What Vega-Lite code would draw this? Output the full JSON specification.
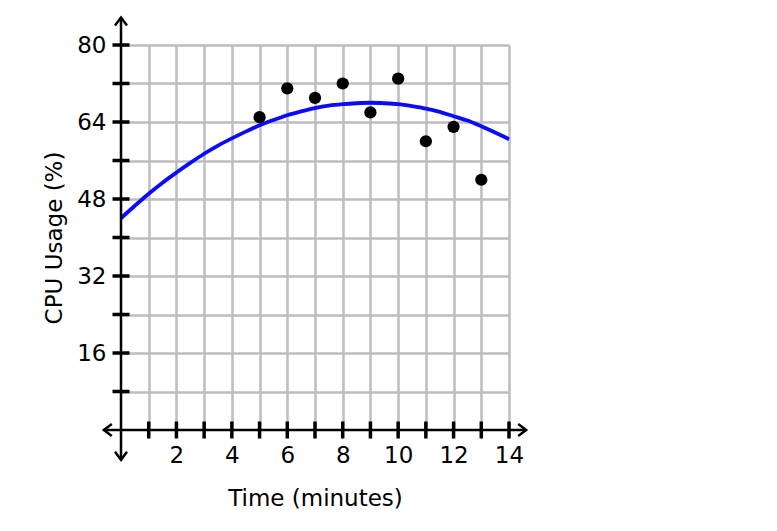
{
  "$schema": "https://vega.github.io/schema/vega-lite/v6.json",
  "width": 388,
  "height": 385,
  "autosize": {"type": "none"},
  "padding": {"left": 121, "top": 45, "right": 268, "bottom": 101},
  "background": "white",
  "config": {
    "view": {"stroke": null},
    "font": "DejaVu Sans"
  },
  "datasets": {
    "points": [
      {"time": 5, "cpu": 65},
      {"time": 6, "cpu": 71},
      {"time": 7, "cpu": 69},
      {"time": 8, "cpu": 72},
      {"time": 9, "cpu": 66},
      {"time": 10, "cpu": 73},
      {"time": 11, "cpu": 60},
      {"time": 12, "cpu": 63},
      {"time": 13, "cpu": 52}
    ],
    "curve": [
      {"time": 0, "cpu": 44.0},
      {"time": 0.5, "cpu": 46.6},
      {"time": 1, "cpu": 49.1},
      {"time": 1.5, "cpu": 51.4},
      {"time": 2, "cpu": 53.5},
      {"time": 2.5, "cpu": 55.5},
      {"time": 3, "cpu": 57.4},
      {"time": 3.5, "cpu": 59.1},
      {"time": 4, "cpu": 60.6},
      {"time": 4.5, "cpu": 62.0},
      {"time": 5, "cpu": 63.3},
      {"time": 5.5, "cpu": 64.4},
      {"time": 6, "cpu": 65.4},
      {"time": 6.5, "cpu": 66.2},
      {"time": 7, "cpu": 66.9},
      {"time": 7.5, "cpu": 67.4},
      {"time": 8, "cpu": 67.7},
      {"time": 8.5, "cpu": 67.9},
      {"time": 9, "cpu": 68.0},
      {"time": 9.5, "cpu": 67.9},
      {"time": 10, "cpu": 67.7},
      {"time": 10.5, "cpu": 67.3},
      {"time": 11, "cpu": 66.8},
      {"time": 11.5, "cpu": 66.1},
      {"time": 12, "cpu": 65.2},
      {"time": 12.5, "cpu": 64.3},
      {"time": 13, "cpu": 63.1},
      {"time": 13.5, "cpu": 61.8},
      {"time": 14, "cpu": 60.4}
    ],
    "xticks": [
      {"t": 1}, {"t": 2}, {"t": 3}, {"t": 4}, {"t": 5}, {"t": 6}, {"t": 7},
      {"t": 8}, {"t": 9}, {"t": 10}, {"t": 11}, {"t": 12}, {"t": 13}, {"t": 14}
    ],
    "yticks": [
      {"v": 8}, {"v": 16}, {"v": 24}, {"v": 32}, {"v": 40},
      {"v": 48}, {"v": 56}, {"v": 64}, {"v": 72}, {"v": 80}
    ],
    "axislines": [
      {"x1": 0, "x2": 0, "y1": -6.2, "y2": 85.7},
      {"x1": -0.62, "x2": 14.62, "y1": 0, "y2": 0}
    ],
    "arrows": [
      {"ax": 0, "ay": 85.7, "dir": "up"},
      {"ax": 0, "ay": -6.2, "dir": "down"},
      {"ax": -0.62, "ay": 0, "dir": "left"},
      {"ax": 14.62, "ay": 0, "dir": "right"}
    ]
  },
  "layer": [
    {
      "data": {"name": "curve"},
      "mark": {"type": "line", "color": "#0a0aff", "strokeWidth": 3.8, "interpolate": "monotone"},
      "encoding": {
        "x": {
          "field": "time",
          "type": "quantitative",
          "scale": {"domain": [0, 14], "nice": false, "zero": false},
          "axis": {
            "orient": "bottom",
            "values": [1, 2, 3, 4, 5, 6, 7, 8, 9, 10, 11, 12, 13, 14],
            "tickCount": 40,
            "format": "d",
            "labelExpr": "datum.value % 2 == 0 ? datum.label : ''",
            "domain": false,
            "ticks": false,
            "grid": true,
            "gridColor": "#bdbdbd",
            "gridWidth": 2.5,
            "gridOpacity": 1,
            "labelFont": "DejaVu Sans",
            "labelFontSize": 23,
            "labelColor": "black",
            "labelPadding": 14,
            "labelFlush": false,
            "labelOverlap": false,
            "title": "Time (minutes)",
            "titleFont": "DejaVu Sans",
            "titleFontSize": 23,
            "titleFontWeight": "normal",
            "titleColor": "black",
            "titlePadding": 20
          }
        },
        "y": {
          "field": "cpu",
          "type": "quantitative",
          "scale": {"domain": [0, 80], "nice": false, "zero": false},
          "axis": {
            "orient": "left",
            "values": [8, 16, 24, 32, 40, 48, 56, 64, 72, 80],
            "tickCount": 40,
            "format": "d",
            "labelExpr": "datum.value % 16 == 0 ? datum.label : ''",
            "domain": false,
            "ticks": false,
            "grid": true,
            "gridColor": "#bdbdbd",
            "gridWidth": 2.5,
            "gridOpacity": 1,
            "labelFont": "DejaVu Sans",
            "labelFontSize": 23,
            "labelColor": "black",
            "labelPadding": 15,
            "labelFlush": false,
            "labelOverlap": false,
            "title": "CPU Usage (%)",
            "titleFont": "DejaVu Sans",
            "titleFontSize": 23,
            "titleFontWeight": "normal",
            "titleColor": "black",
            "titlePadding": 10
          }
        }
      }
    },
    {
      "data": {"name": "points"},
      "mark": {"type": "point", "filled": true, "color": "black", "size": 150, "opacity": 1},
      "encoding": {
        "x": {"field": "time", "type": "quantitative"},
        "y": {"field": "cpu", "type": "quantitative"}
      }
    },
    {
      "data": {"name": "axislines"},
      "mark": {"type": "rule", "color": "black", "strokeWidth": 2.5},
      "encoding": {
        "x": {"field": "x1", "type": "quantitative"},
        "x2": {"field": "x2"},
        "y": {"field": "y1", "type": "quantitative"},
        "y2": {"field": "y2"}
      }
    },
    {
      "data": {"name": "xticks"},
      "mark": {"type": "tick", "orient": "vertical", "color": "black", "size": 17, "thickness": 3.5, "opacity": 1},
      "encoding": {
        "x": {"field": "t", "type": "quantitative"},
        "y": {"datum": 0, "type": "quantitative"}
      }
    },
    {
      "data": {"name": "yticks"},
      "mark": {"type": "tick", "orient": "horizontal", "color": "black", "size": 17, "thickness": 3.5, "opacity": 1},
      "encoding": {
        "x": {"datum": 0, "type": "quantitative"},
        "y": {"field": "v", "type": "quantitative"}
      }
    },
    {
      "data": {"name": "arrows"},
      "mark": {"type": "point", "filled": false, "stroke": "black", "strokeWidth": 2.5, "size": 144, "opacity": 1},
      "encoding": {
        "x": {"field": "ax", "type": "quantitative"},
        "y": {"field": "ay", "type": "quantitative"},
        "shape": {
          "field": "dir",
          "type": "nominal",
          "legend": null,
          "scale": {
            "domain": ["up", "down", "left", "right"],
            "range": [
              "M -1 1.333 L 0 0 L 1 1.333",
              "M -1 -1.333 L 0 0 L 1 -1.333",
              "M 1.333 -1 L 0 0 L 1.333 1",
              "M -1.333 -1 L 0 0 L -1.333 1"
            ]
          }
        }
      }
    }
  ]
}
